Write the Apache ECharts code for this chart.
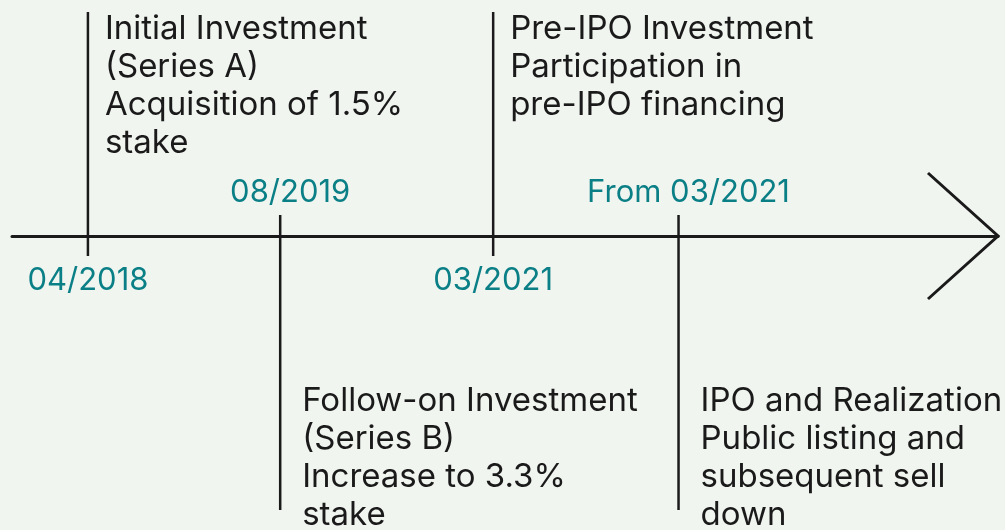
<!DOCTYPE html>
<html>
<head>
<meta charset="utf-8">
<script src="https://cdn.jsdelivr.net/npm/echarts@6/dist/echarts.min.js"></script>
<style>
html,body{margin:0;padding:0;background:#f1f5f0;}
#chart{width:1005px;height:530px;}
</style>
</head>
<body>
<div id="chart"></div>
<script>
// ---- data ----
const dates = ['04/2018', '08/2019', '03/2021', 'From 03/2021'];
const titles = [
  'Initial Investment\n(Series A)\nAcquisition of 1.5%\nstake',
  'Follow-on Investment\n(Series B)\nIncrease to 3.3%\nstake',
  'Pre-IPO Investment\nParticipation in\npre-IPO financing',
  'IPO and Realization\nPublic listing and\nsubsequent sell\ndown'
];
// position of each milestone along the timeline (0 = start, 100 = arrow tip)
const positions = [7.7, 27.2, 48.8, 67.6];
const sides = ['above', 'below', 'above', 'below'];

const FONT = 'Inter, Roboto, sans-serif';
const TEAL = '#0b7f86';
const INK = '#1a1a1a';

const chart = echarts.init(document.getElementById('chart'), null, {renderer: 'canvas'});

chart.setOption({
  backgroundColor: '#f1f5f0',
  animation: false,
  grid: {left: 12, right: 7, top: 0, height: 472},
  xAxis: {
    type: 'value', min: 0, max: 100,
    axisLine: {show: true, onZero: true, lineStyle: {color: INK, width: 3}},
    axisTick: {show: false}, axisLabel: {show: false}, splitLine: {show: false}
  },
  yAxis: {
    type: 'value', min: -1, max: 1,
    axisLine: {show: false}, axisTick: {show: false}, axisLabel: {show: false}, splitLine: {show: false}
  },
  series: [
    {
      type: 'custom',
      coordinateSystem: 'cartesian2d',
      data: positions.map(p => [p, 0]),
      renderItem: function (params, api) {
        const i = params.dataIndex;
        const pt = api.coord([api.value(0), 0]);
        const x = pt[0], y = pt[1];
        const above = sides[i] === 'above';
        const children = [];
        if (above) {
          children.push({type: 'line', shape: {x1: x, y1: y - 224, x2: x, y2: y + 20},
            style: {stroke: INK, lineWidth: 2.5}});
          children.push({type: 'text', x: x, y: y + 45,
            style: {text: dates[i], fill: TEAL, font: '400 31px ' + FONT, align: 'center', verticalAlign: 'middle'}});
          children.push({type: 'text', x: x + 17, y: y - 226,
            style: {text: titles[i], fill: INK, font: '400 33px ' + FONT, lineHeight: 38, align: 'left', verticalAlign: 'top'}});
        } else {
          children.push({type: 'line', shape: {x1: x, y1: y - 21, x2: x, y2: y + 274},
            style: {stroke: INK, lineWidth: 2.5}});
          children.push({type: 'text', x: x + 10, y: y - 43,
            style: {text: dates[i], fill: TEAL, font: '400 31px ' + FONT, align: 'center', verticalAlign: 'middle'}});
          children.push({type: 'text', x: x + 22, y: y + 146,
            style: {text: titles[i], fill: INK, font: '400 33px ' + FONT, lineHeight: 38, align: 'left', verticalAlign: 'top'}});
        }
        return {type: 'group', children: children};
      },
      silent: true, z: 5
    },
    {
      type: 'custom',
      coordinateSystem: 'cartesian2d',
      data: [[100, 0]],
      renderItem: function (params, api) {
        const pt = api.coord([api.value(0), 0]);
        return {type: 'polyline',
          shape: {points: [[pt[0] - 70, pt[1] - 63], [pt[0], pt[1]], [pt[0] - 70, pt[1] + 63]]},
          style: {stroke: INK, lineWidth: 3, fill: null}};
      },
      silent: true, z: 5
    }
  ]
});
</script>
</body>
</html>
